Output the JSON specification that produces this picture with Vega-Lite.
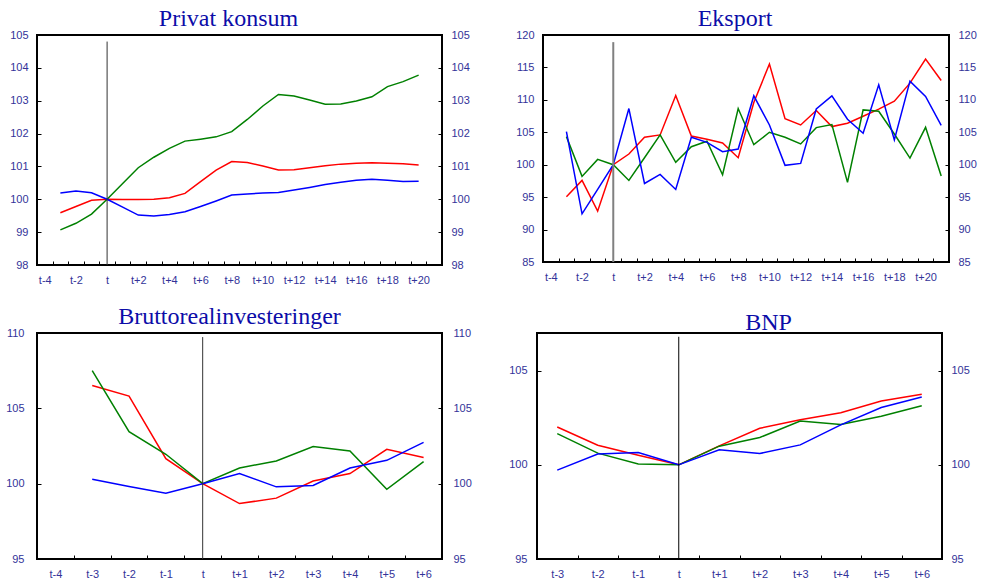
{
  "$schema": "https://vega.github.io/schema/vega-lite/v6.json",
  "background": "white",
  "padding": {"left": 4, "top": 6, "right": 0, "bottom": 0},
  "config": {
    "view": {"stroke": "#000000", "strokeWidth": 2},
    "axis": {"labelFont": "Liberation Sans", "labelFontSize": 11, "labelColor": "#333399", "tickColor": "#000000", "tickSize": -4, "tickWidth": 1, "domain": false, "grid": false, "title": null, "labelPadding": 13},
    "title": {"font": "Liberation Serif", "fontSize": 24, "fontWeight": "normal", "color": "#0C0CA8", "offset": -2, "frame": "group"}
  },
  "datasets": {
    "pk": [
      {"p": "t-3", "s": "A", "v": 99.59}, {"p": "t-2", "s": "A", "v": 99.78}, {"p": "t-1", "s": "A", "v": 99.97}, {"p": "t", "s": "A", "v": 100.0},
      {"p": "t+1", "s": "A", "v": 99.99}, {"p": "t+2", "s": "A", "v": 99.99}, {"p": "t+3", "s": "A", "v": 100.0}, {"p": "t+4", "s": "A", "v": 100.05},
      {"p": "t+5", "s": "A", "v": 100.18}, {"p": "t+6", "s": "A", "v": 100.54}, {"p": "t+7", "s": "A", "v": 100.89}, {"p": "t+8", "s": "A", "v": 101.15},
      {"p": "t+9", "s": "A", "v": 101.12}, {"p": "t+10", "s": "A", "v": 101.01}, {"p": "t+11", "s": "A", "v": 100.89}, {"p": "t+12", "s": "A", "v": 100.9},
      {"p": "t+13", "s": "A", "v": 100.96}, {"p": "t+14", "s": "A", "v": 101.02}, {"p": "t+15", "s": "A", "v": 101.07}, {"p": "t+16", "s": "A", "v": 101.1},
      {"p": "t+17", "s": "A", "v": 101.11}, {"p": "t+18", "s": "A", "v": 101.1}, {"p": "t+19", "s": "A", "v": 101.08}, {"p": "t+20", "s": "A", "v": 101.04},
      {"p": "t-3", "s": "B", "v": 99.07}, {"p": "t-2", "s": "B", "v": 99.27}, {"p": "t-1", "s": "B", "v": 99.55}, {"p": "t", "s": "B", "v": 100.0},
      {"p": "t+1", "s": "B", "v": 100.48}, {"p": "t+2", "s": "B", "v": 100.96}, {"p": "t+3", "s": "B", "v": 101.28}, {"p": "t+4", "s": "B", "v": 101.55},
      {"p": "t+5", "s": "B", "v": 101.77}, {"p": "t+6", "s": "B", "v": 101.83}, {"p": "t+7", "s": "B", "v": 101.9}, {"p": "t+8", "s": "B", "v": 102.06},
      {"p": "t+9", "s": "B", "v": 102.43}, {"p": "t+10", "s": "B", "v": 102.84}, {"p": "t+11", "s": "B", "v": 103.19}, {"p": "t+12", "s": "B", "v": 103.14},
      {"p": "t+13", "s": "B", "v": 103.02}, {"p": "t+14", "s": "B", "v": 102.89}, {"p": "t+15", "s": "B", "v": 102.9}, {"p": "t+16", "s": "B", "v": 102.99},
      {"p": "t+17", "s": "B", "v": 103.12}, {"p": "t+18", "s": "B", "v": 103.43}, {"p": "t+19", "s": "B", "v": 103.58}, {"p": "t+20", "s": "B", "v": 103.78},
      {"p": "t-3", "s": "C", "v": 100.19}, {"p": "t-2", "s": "C", "v": 100.25}, {"p": "t-1", "s": "C", "v": 100.2}, {"p": "t", "s": "C", "v": 100.0},
      {"p": "t+1", "s": "C", "v": 99.76}, {"p": "t+2", "s": "C", "v": 99.52}, {"p": "t+3", "s": "C", "v": 99.49}, {"p": "t+4", "s": "C", "v": 99.54},
      {"p": "t+5", "s": "C", "v": 99.62}, {"p": "t+6", "s": "C", "v": 99.78}, {"p": "t+7", "s": "C", "v": 99.95}, {"p": "t+8", "s": "C", "v": 100.13},
      {"p": "t+9", "s": "C", "v": 100.16}, {"p": "t+10", "s": "C", "v": 100.19}, {"p": "t+11", "s": "C", "v": 100.21}, {"p": "t+12", "s": "C", "v": 100.28},
      {"p": "t+13", "s": "C", "v": 100.36}, {"p": "t+14", "s": "C", "v": 100.45}, {"p": "t+15", "s": "C", "v": 100.52}, {"p": "t+16", "s": "C", "v": 100.58},
      {"p": "t+17", "s": "C", "v": 100.61}, {"p": "t+18", "s": "C", "v": 100.58}, {"p": "t+19", "s": "C", "v": 100.54}, {"p": "t+20", "s": "C", "v": 100.55}
    ],
    "eks": [
      {"p": "t-3", "s": "A", "v": 95.05}, {"p": "t-2", "s": "A", "v": 97.58}, {"p": "t-1", "s": "A", "v": 92.84}, {"p": "t", "s": "A", "v": 100.0},
      {"p": "t+1", "s": "A", "v": 101.65}, {"p": "t+2", "s": "A", "v": 104.23}, {"p": "t+3", "s": "A", "v": 104.59}, {"p": "t+4", "s": "A", "v": 110.67},
      {"p": "t+5", "s": "A", "v": 104.43}, {"p": "t+6", "s": "A", "v": 103.92}, {"p": "t+7", "s": "A", "v": 103.35}, {"p": "t+8", "s": "A", "v": 101.08},
      {"p": "t+9", "s": "A", "v": 109.59}, {"p": "t+10", "s": "A", "v": 115.52}, {"p": "t+11", "s": "A", "v": 107.11}, {"p": "t+12", "s": "A", "v": 106.13},
      {"p": "t+13", "s": "A", "v": 108.35}, {"p": "t+14", "s": "A", "v": 105.88}, {"p": "t+15", "s": "A", "v": 106.39}, {"p": "t+16", "s": "A", "v": 107.47},
      {"p": "t+17", "s": "A", "v": 108.56}, {"p": "t+18", "s": "A", "v": 109.79}, {"p": "t+19", "s": "A", "v": 112.58}, {"p": "t+20", "s": "A", "v": 116.29},
      {"p": "t+21", "s": "A", "v": 112.99},
      {"p": "t-3", "s": "B", "v": 104.33}, {"p": "t-2", "s": "B", "v": 98.2}, {"p": "t-1", "s": "B", "v": 100.82}, {"p": "t", "s": "B", "v": 100.0},
      {"p": "t+1", "s": "B", "v": 97.58}, {"p": "t+2", "s": "B", "v": 101.08}, {"p": "t+3", "s": "B", "v": 104.59}, {"p": "t+4", "s": "B", "v": 100.36},
      {"p": "t+5", "s": "B", "v": 102.78}, {"p": "t+6", "s": "B", "v": 103.61}, {"p": "t+7", "s": "B", "v": 98.45}, {"p": "t+8", "s": "B", "v": 108.66},
      {"p": "t+9", "s": "B", "v": 103.09}, {"p": "t+10", "s": "B", "v": 105.0}, {"p": "t+11", "s": "B", "v": 104.23}, {"p": "t+12", "s": "B", "v": 103.2},
      {"p": "t+13", "s": "B", "v": 105.72}, {"p": "t+14", "s": "B", "v": 106.19}, {"p": "t+15", "s": "B", "v": 97.27}, {"p": "t+16", "s": "B", "v": 108.45},
      {"p": "t+17", "s": "B", "v": 108.25}, {"p": "t+18", "s": "B", "v": 104.74}, {"p": "t+19", "s": "B", "v": 101.03}, {"p": "t+20", "s": "B", "v": 105.77},
      {"p": "t+21", "s": "B", "v": 98.25},
      {"p": "t-3", "s": "C", "v": 105.1}, {"p": "t-2", "s": "C", "v": 92.42}, {"p": "t-1", "s": "C", "v": 96.2}, {"p": "t", "s": "C", "v": 100.0},
      {"p": "t+1", "s": "C", "v": 108.66}, {"p": "t+2", "s": "C", "v": 97.11}, {"p": "t+3", "s": "C", "v": 98.5}, {"p": "t+4", "s": "C", "v": 96.19},
      {"p": "t+5", "s": "C", "v": 104.23}, {"p": "t+6", "s": "C", "v": 103.45}, {"p": "t+7", "s": "C", "v": 102.01}, {"p": "t+8", "s": "C", "v": 102.42},
      {"p": "t+9", "s": "C", "v": 110.62}, {"p": "t+10", "s": "C", "v": 106.13}, {"p": "t+11", "s": "C", "v": 99.9}, {"p": "t+12", "s": "C", "v": 100.2},
      {"p": "t+13", "s": "C", "v": 108.6}, {"p": "t+14", "s": "C", "v": 110.62}, {"p": "t+15", "s": "C", "v": 107.01}, {"p": "t+16", "s": "C", "v": 104.85},
      {"p": "t+17", "s": "C", "v": 112.32}, {"p": "t+18", "s": "C", "v": 103.81}, {"p": "t+19", "s": "C", "v": 112.89}, {"p": "t+20", "s": "C", "v": 110.52},
      {"p": "t+21", "s": "C", "v": 106.08}
    ],
    "bri": [
      {"p": "t-3", "s": "A", "v": 106.52}, {"p": "t-2", "s": "A", "v": 105.81}, {"p": "t-1", "s": "A", "v": 101.66}, {"p": "t", "s": "A", "v": 100.0},
      {"p": "t+1", "s": "A", "v": 98.68}, {"p": "t+2", "s": "A", "v": 99.04}, {"p": "t+3", "s": "A", "v": 100.18}, {"p": "t+4", "s": "A", "v": 100.67},
      {"p": "t+5", "s": "A", "v": 102.28}, {"p": "t+6", "s": "A", "v": 101.73},
      {"p": "t-3", "s": "B", "v": 107.51}, {"p": "t-2", "s": "B", "v": 103.45}, {"p": "t-1", "s": "B", "v": 101.95}, {"p": "t", "s": "B", "v": 100.0},
      {"p": "t+1", "s": "B", "v": 101.04}, {"p": "t+2", "s": "B", "v": 101.51}, {"p": "t+3", "s": "B", "v": 102.46}, {"p": "t+4", "s": "B", "v": 102.17},
      {"p": "t+5", "s": "B", "v": 99.63}, {"p": "t+6", "s": "B", "v": 101.46},
      {"p": "t-3", "s": "C", "v": 100.29}, {"p": "t-2", "s": "C", "v": 99.81}, {"p": "t-1", "s": "C", "v": 99.37}, {"p": "t", "s": "C", "v": 100.0},
      {"p": "t+1", "s": "C", "v": 100.67}, {"p": "t+2", "s": "C", "v": 99.79}, {"p": "t+3", "s": "C", "v": 99.88}, {"p": "t+4", "s": "C", "v": 101.04},
      {"p": "t+5", "s": "C", "v": 101.55}, {"p": "t+6", "s": "C", "v": 102.74}
    ],
    "bnp": [
      {"p": "t-3", "s": "A", "v": 102.01}, {"p": "t-2", "s": "A", "v": 101.04}, {"p": "t-1", "s": "A", "v": 100.51}, {"p": "t", "s": "A", "v": 100.0},
      {"p": "t+1", "s": "A", "v": 101.01}, {"p": "t+2", "s": "A", "v": 101.94}, {"p": "t+3", "s": "A", "v": 102.39}, {"p": "t+4", "s": "A", "v": 102.77},
      {"p": "t+5", "s": "A", "v": 103.39}, {"p": "t+6", "s": "A", "v": 103.75},
      {"p": "t-3", "s": "B", "v": 101.66}, {"p": "t-2", "s": "B", "v": 100.62}, {"p": "t-1", "s": "B", "v": 100.04}, {"p": "t", "s": "B", "v": 100.0},
      {"p": "t+1", "s": "B", "v": 100.99}, {"p": "t+2", "s": "B", "v": 101.45}, {"p": "t+3", "s": "B", "v": 102.33}, {"p": "t+4", "s": "B", "v": 102.14},
      {"p": "t+5", "s": "B", "v": 102.58}, {"p": "t+6", "s": "B", "v": 103.14},
      {"p": "t-3", "s": "C", "v": 99.72}, {"p": "t-2", "s": "C", "v": 100.57}, {"p": "t-1", "s": "C", "v": 100.65}, {"p": "t", "s": "C", "v": 100.0},
      {"p": "t+1", "s": "C", "v": 100.8}, {"p": "t+2", "s": "C", "v": 100.6}, {"p": "t+3", "s": "C", "v": 101.06}, {"p": "t+4", "s": "C", "v": 102.12},
      {"p": "t+5", "s": "C", "v": 103.04}, {"p": "t+6", "s": "C", "v": 103.6}
    ]
  },
  "spacing": 18,
  "vconcat": [
    {
      "spacing": 43,
      "hconcat": [
        {
          "title": {"text": "Privat konsum", "dx": -11},
          "width": 405, "height": 230,
          "layer": [
            {
              "data": {"name": "pk"},
              "mark": {"type": "line", "strokeWidth": 1.5},
              "encoding": {
                "x": {"field": "p", "type": "ordinal", "sort": null,
                  "scale": {"type": "band", "paddingInner": 0, "paddingOuter": 0, "domain": ["t-4","t-3","t-2","t-1","t","t+1","t+2","t+3","t+4","t+5","t+6","t+7","t+8","t+9","t+10","t+11","t+12","t+13","t+14","t+15","t+16","t+17","t+18","t+19","t+20","t+21"]},
                  "axis": {"labelAngle": 0, "tickBand": "extent", "labelExpr": "indexof(['t-4','t-2','t','t+2','t+4','t+6','t+8','t+10','t+12','t+14','t+16','t+18','t+20'], datum.value) >= 0 ? datum.value : ''"}},
                "y": {"field": "v", "type": "quantitative", "scale": {"domain": [98, 105], "nice": false, "zero": false}, "axis": {"orient": "left", "values": [98, 99, 100, 101, 102, 103, 104, 105]}},
                "color": {"field": "s", "type": "nominal", "scale": {"domain": ["A", "B", "C"], "range": ["#FF0000", "#008000", "#0000FF"]}, "legend": null}
              }
            },
            {
              "data": {"values": [{}]},
              "mark": {"type": "rule", "color": "#333333", "strokeWidth": 1},
              "encoding": {
                "x": {"datum": "t", "type": "ordinal"},
                "y": {"datum": 98, "type": "quantitative", "scale": {"domain": [98, 105], "nice": false, "zero": false}, "axis": {"orient": "right", "values": [98, 99, 100, 101, 102, 103, 104, 105]}},
                "y2": {"datum": 104.8}
              }
            }
          ],
          "resolve": {"scale": {"y": "independent"}}
        },
        {
          "title": {"text": "Eksport", "dx": -11},
          "width": 406, "height": 227,
          "layer": [
            {
              "data": {"name": "eks"},
              "mark": {"type": "line", "strokeWidth": 1.5},
              "encoding": {
                "x": {"field": "p", "type": "ordinal", "sort": null,
                  "scale": {"type": "band", "paddingInner": 0, "paddingOuter": 0, "domain": ["t-4","t-3","t-2","t-1","t","t+1","t+2","t+3","t+4","t+5","t+6","t+7","t+8","t+9","t+10","t+11","t+12","t+13","t+14","t+15","t+16","t+17","t+18","t+19","t+20","t+21"]},
                  "axis": {"labelAngle": 0, "tickBand": "extent", "labelExpr": "indexof(['t-4','t-2','t','t+2','t+4','t+6','t+8','t+10','t+12','t+14','t+16','t+18','t+20'], datum.value) >= 0 ? datum.value : ''"}},
                "y": {"field": "v", "type": "quantitative", "scale": {"domain": [85, 120], "nice": false, "zero": false}, "axis": {"orient": "left", "values": [85, 90, 95, 100, 105, 110, 115, 120]}},
                "color": {"field": "s", "type": "nominal", "scale": {"domain": ["A", "B", "C"], "range": ["#FF0000", "#008000", "#0000FF"]}, "legend": null}
              }
            },
            {
              "data": {"values": [{}]},
              "mark": {"type": "rule", "color": "#808080", "strokeWidth": 2},
              "encoding": {
                "x": {"datum": "t", "type": "ordinal"},
                "y": {"datum": 85, "type": "quantitative", "scale": {"domain": [85, 120], "nice": false, "zero": false}, "axis": {"orient": "right", "values": [85, 90, 95, 100, 105, 110, 115, 120]}},
                "y2": {"datum": 118.9}
              }
            }
          ],
          "resolve": {"scale": {"y": "independent"}}
        }
      ]
    },
    {
      "spacing": 34,
      "hconcat": [
        {
          "title": {"text": "Bruttorealinvesteringer", "dx": -10},
          "width": 405, "height": 226,
          "layer": [
            {
              "data": {"name": "bri"},
              "mark": {"type": "line", "strokeWidth": 1.5},
              "encoding": {
                "x": {"field": "p", "type": "ordinal", "sort": null,
                  "scale": {"type": "band", "paddingInner": 0, "paddingOuter": 0, "domain": ["t-4","t-3","t-2","t-1","t","t+1","t+2","t+3","t+4","t+5","t+6"]},
                  "axis": {"labelAngle": 0, "tickBand": "extent"}},
                "y": {"field": "v", "type": "quantitative", "scale": {"domain": [95, 110], "nice": false, "zero": false}, "axis": {"orient": "left", "values": [95, 100, 105, 110], "labelPadding": 17}},
                "color": {"field": "s", "type": "nominal", "scale": {"domain": ["A", "B", "C"], "range": ["#FF0000", "#008000", "#0000FF"]}, "legend": null}
              }
            },
            {
              "data": {"values": [{}]},
              "mark": {"type": "rule", "color": "#333333", "strokeWidth": 1},
              "encoding": {
                "x": {"datum": "t", "type": "ordinal"},
                "y": {"datum": 95, "type": "quantitative", "scale": {"domain": [95, 110], "nice": false, "zero": false}, "axis": {"orient": "right", "values": [95, 100, 105, 110], "labelPadding": 15}},
                "y2": {"datum": 109.73}
              }
            }
          ],
          "resolve": {"scale": {"y": "independent"}}
        },
        {
          "title": {"text": "BNP", "dx": 29},
          "width": 405, "height": 226,
          "layer": [
            {
              "data": {"name": "bnp"},
              "mark": {"type": "line", "strokeWidth": 1.5},
              "encoding": {
                "x": {"field": "p", "type": "ordinal", "sort": null,
                  "scale": {"type": "band", "paddingInner": 0, "paddingOuter": 0, "domain": ["t-3","t-2","t-1","t","t+1","t+2","t+3","t+4","t+5","t+6"]},
                  "axis": {"labelAngle": 0, "tickBand": "extent"}},
                "y": {"field": "v", "type": "quantitative", "scale": {"domain": [95, 107], "nice": false, "zero": false}, "axis": {"orient": "left", "values": [95, 100, 105], "labelPadding": 14}},
                "color": {"field": "s", "type": "nominal", "scale": {"domain": ["A", "B", "C"], "range": ["#FF0000", "#008000", "#0000FF"]}, "legend": null}
              }
            },
            {
              "data": {"values": [{}]},
              "mark": {"type": "rule", "color": "#000000", "strokeWidth": 1},
              "encoding": {
                "x": {"datum": "t", "type": "ordinal"},
                "y": {"datum": 95, "type": "quantitative", "scale": {"domain": [95, 107], "nice": false, "zero": false}, "axis": {"orient": "right", "values": [95, 100, 105]}},
                "y2": {"datum": 106.8}
              }
            }
          ],
          "resolve": {"scale": {"y": "independent"}}
        }
      ]
    }
  ]
}
